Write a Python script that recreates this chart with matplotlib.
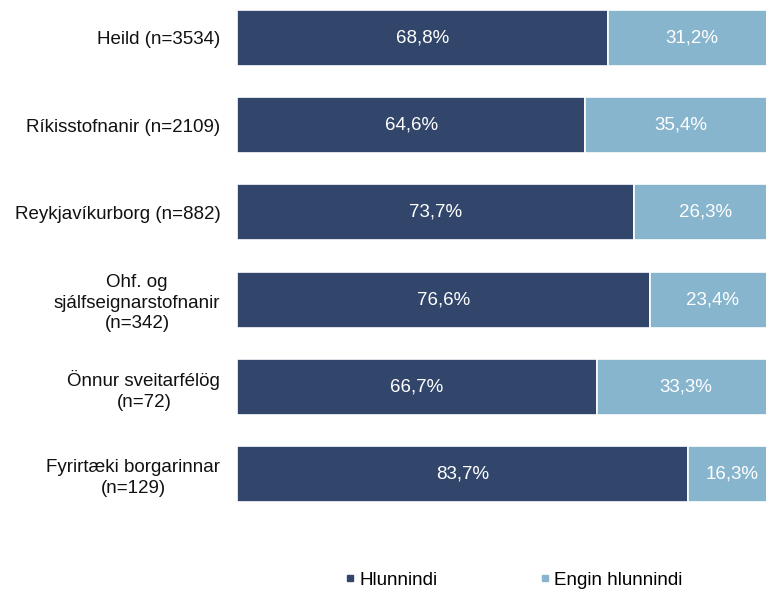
import matplotlib
matplotlib.use("Agg")
import matplotlib.pyplot as plt
from matplotlib.lines import Line2D

plt.rcParams['font.family'] = ['Liberation Sans', 'DejaVu Sans']

categories = [
    "Heild (n=3534)",
    "Ríkisstofnanir (n=2109)",
    "Reykjavíkurborg (n=882)",
    "Ohf. og\nsjálfseignarstofnanir\n(n=342)",
    "Önnur sveitarfélög\n(n=72)",
    "Fyrirtæki borgarinnar\n(n=129)",
]
hlunnindi = [68.8, 64.6, 73.7, 76.6, 66.7, 83.7]
engin = [31.2, 35.4, 26.3, 23.4, 33.3, 16.3]
series_names = ["Hlunnindi", "Engin hlunnindi"]

dark = "#31466A"
light = "#86B5CD"
fs = 13.5

W, H = 766, 591
fig = plt.figure(figsize=(W / 100, H / 100), dpi=100)
ax = fig.add_axes([237 / W, (H - 502) / H, 539 / W, 492 / H])

ypos = list(range(len(categories)))
bh = 0.64
ax.barh(ypos, hlunnindi, height=bh, color=dark, edgecolor="white", linewidth=1.2)
ax.barh(ypos, engin, left=hlunnindi, height=bh, color=light, edgecolor="white", linewidth=1.2)

for y, a, b in zip(ypos, hlunnindi, engin):
    ax.text(a / 2, y, f"{a:.1f}%".replace(".", ","), ha="center", va="center",
            color="white", fontsize=fs)
    ax.text(a + b / 2, y, f"{b:.1f}%".replace(".", ","), ha="center", va="center",
            color="white", fontsize=fs)

ax.set_xlim(0, 100)
ax.set_ylim(len(categories) - 1 + bh / 2, -bh / 2)
ax.set_yticks(ypos)
ax.set_yticklabels(categories, fontsize=fs, color="#111111")
for lbl in ax.get_yticklabels():
    lbl.set_multialignment("center")
    lbl.set_linespacing(1.27)
ax.tick_params(axis="y", length=0, pad=12)
ax.set_xticks([])
for s in ax.spines.values():
    s.set_visible(False)

handles = [
    Line2D([], [], marker="s", linestyle="none", color=dark, markersize=5),
    Line2D([], [], marker="s", linestyle="none", color=light, markersize=5),
]
fig.legend(handles, series_names, loc="center", bbox_to_anchor=(514 / W, 1 - 580 / H),
           ncol=2, frameon=False, fontsize=fs, handlelength=0.5, handletextpad=0.25,
           columnspacing=5.5)

fig.savefig("out.png", dpi=100)
